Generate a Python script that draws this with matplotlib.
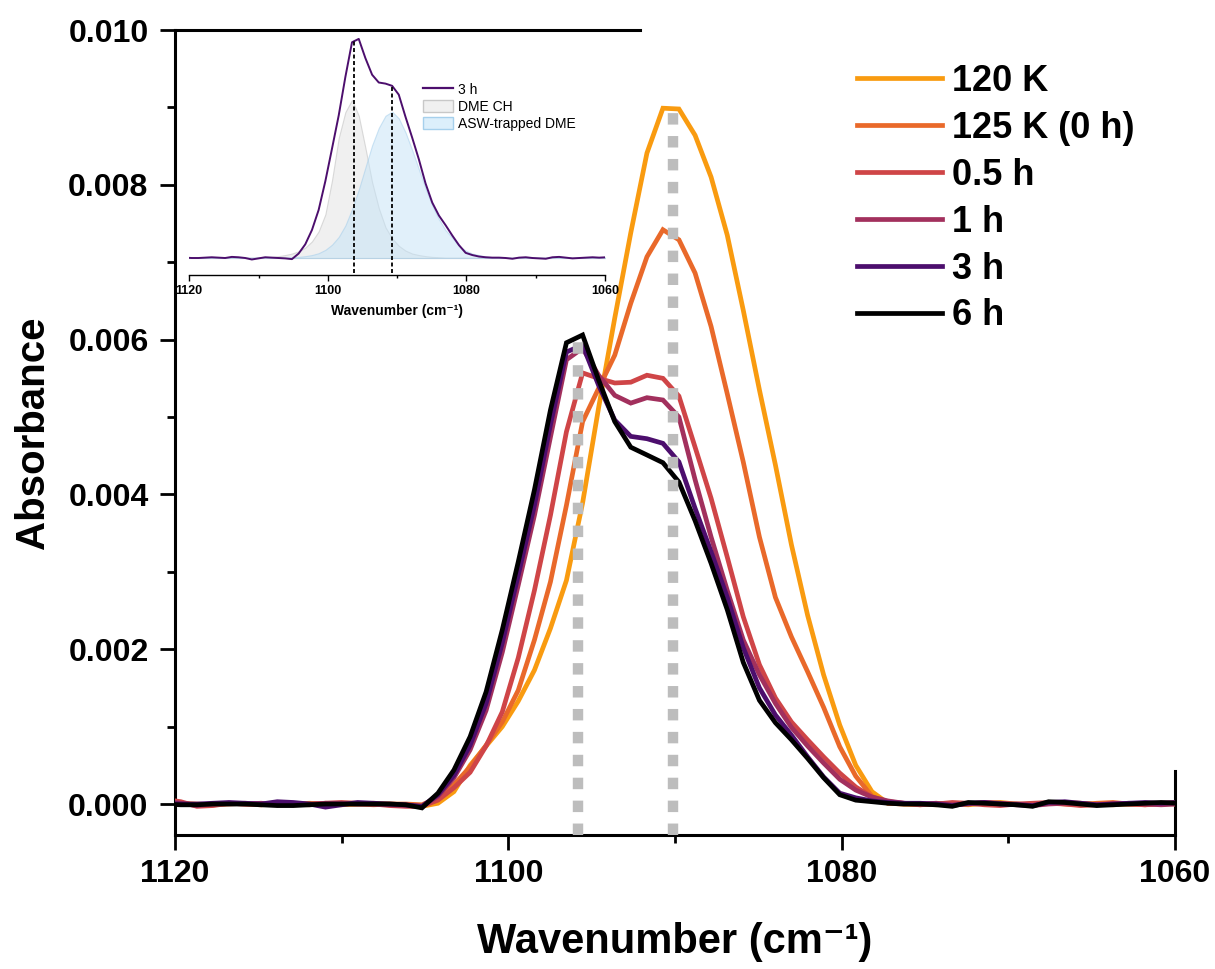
import matplotlib
matplotlib.use('Agg')
import matplotlib.pyplot as plt
import matplotlib.ticker as mticker
from matplotlib.lines import Line2D
from matplotlib.patches import Patch

plt.rcParams['font.family'] = ['Liberation Sans', 'DejaVu Sans']
plt.rcParams['font.weight'] = 'bold'
plt.rcParams['axes.labelweight'] = 'bold'

# --- data ---
wavenumber = [1120.61, 1119.65, 1118.68, 1117.72, 1116.76, 1115.79, 1114.83, 1113.86,
              1112.90, 1111.93, 1110.97, 1110.01, 1109.04, 1108.08, 1107.11, 1106.15,
              1105.18, 1104.22, 1103.26, 1102.29, 1101.33, 1100.36, 1099.40, 1098.43,
              1097.47, 1096.51, 1095.54, 1094.58, 1093.61, 1092.65, 1091.68, 1090.72,
              1089.76, 1088.79, 1087.83, 1086.86, 1085.90, 1084.93, 1083.97, 1083.01,
              1082.04, 1081.08, 1080.11, 1079.15, 1078.18, 1077.22, 1076.26, 1075.29,
              1074.33, 1073.36, 1072.40, 1071.43, 1070.47, 1069.51, 1068.54, 1067.58,
              1066.61, 1065.65, 1064.69, 1063.72, 1062.76, 1061.79, 1060.83, 1059.86]

abs_120K = [0.00001, 0.00000, -0.00001, 0.00000, 0.00001, 0.00000, -0.00001, 0.00000,
            0.00000, 0.00001, 0.00000, -0.00001, 0.00000, 0.00001, 0.00000, -0.00001,
            -0.00003, 0.00001, 0.00016, 0.00050, 0.00075, 0.00100, 0.00133, 0.00173,
            0.00227, 0.00289, 0.00389, 0.00512, 0.00628, 0.00738, 0.00841, 0.00899,
            0.00898, 0.00864, 0.00810, 0.00735, 0.00638, 0.00535, 0.00438, 0.00335,
            0.00244, 0.00167, 0.00102, 0.00050, 0.00016, 0.00001, 0.00000,
            -0.00001, 0.00001, 0.00000, -0.00001, 0.00001, 0.00002, 0.00000, -0.00001,
            0.00001, 0.00002, 0.00001, 0.00000, -0.00001, 0.00000, 0.00001, 0.00001, 0.00000]

abs_125K = [0.00002, 0.00001, 0.00000, -0.00001, 0.00000, 0.00001, 0.00000, 0.00000,
            -0.00001, 0.00000, 0.00001, 0.00000, 0.00000, -0.00001, 0.00000, 0.00000,
            -0.00001, 0.00008, 0.00025, 0.00048, 0.00076, 0.00106, 0.00147, 0.00212,
            0.00287, 0.00386, 0.00494, 0.00537, 0.00580, 0.00647, 0.00707, 0.00742,
            0.00729, 0.00686, 0.00617, 0.00530, 0.00442, 0.00345, 0.00267, 0.00216,
            0.00171, 0.00125, 0.00074, 0.00036, 0.00010, 0.00001, 0.00000,
            0.00000, -0.00001, 0.00001, 0.00000, 0.00002, 0.00001, -0.00001, 0.00000,
            0.00001, 0.00000, -0.00001, 0.00001, 0.00002, 0.00000, -0.00001, 0.00000, 0.00001]

abs_05h = [0.00006, 0.00003, -0.00003, -0.00002, 0.00001, 0.00000, -0.00001, 0.00002,
           0.00000, -0.00001, 0.00001, 0.00002, 0.00001, 0.00000, -0.00002, -0.00003,
           -0.00003, 0.00005, 0.00021, 0.00041, 0.00075, 0.00119, 0.00189, 0.00276,
           0.00373, 0.00481, 0.00557, 0.00550, 0.00544, 0.00545, 0.00554, 0.00550,
           0.00527, 0.00461, 0.00395, 0.00319, 0.00242, 0.00180, 0.00137, 0.00106,
           0.00083, 0.00061, 0.00040, 0.00022, 0.00009, 0.00003, 0.00001,
           -0.00001, 0.00000, 0.00002, 0.00001, -0.00001, -0.00002, 0.00000, 0.00001,
           0.00002, 0.00000, -0.00002, -0.00001, 0.00001, 0.00000, -0.00001, 0.00001, 0.00002]

abs_1h = [0.00004, 0.00001, -0.00002, 0.00000, 0.00001, 0.00000, 0.00001, -0.00001,
          0.00000, 0.00000, 0.00001, 0.00001, 0.00000, 0.00000, -0.00001, -0.00002,
          -0.00003, 0.00010, 0.00034, 0.00070, 0.00121, 0.00196, 0.00283, 0.00373,
          0.00474, 0.00574, 0.00589, 0.00554, 0.00528, 0.00518, 0.00525, 0.00522,
          0.00500, 0.00419, 0.00345, 0.00276, 0.00212, 0.00167, 0.00130, 0.00099,
          0.00075, 0.00053, 0.00032, 0.00018, 0.00009, 0.00004, 0.00001,
          0.00000, 0.00001, -0.00001, 0.00000, 0.00002, 0.00001, 0.00000, -0.00002,
          0.00000, 0.00001, 0.00001, -0.00001, 0.00000, 0.00001, 0.00000, -0.00001, 0.00000]

abs_3h = [0.00001, 0.00000, 0.00000, 0.00001, 0.00002, 0.00001, 0.00000, 0.00003,
          0.00002, 0.00000, -0.00004, -0.00001, 0.00002, 0.00001, 0.00000, -0.00001,
          -0.00003, 0.00012, 0.00037, 0.00076, 0.00130, 0.00208, 0.00296, 0.00386,
          0.00490, 0.00584, 0.00593, 0.00541, 0.00496, 0.00475, 0.00472, 0.00466,
          0.00442, 0.00382, 0.00326, 0.00267, 0.00202, 0.00150, 0.00115, 0.00089,
          0.00061, 0.00035, 0.00014, 0.00008, 0.00004, 0.00002, 0.00001,
          0.00001, 0.00000, -0.00002, 0.00001, 0.00002, 0.00000, -0.00001, -0.00002,
          0.00002, 0.00003, 0.00001, -0.00001, 0.00000, 0.00001, 0.00002, 0.00001, 0.00002]

abs_6h = [0.00000, -0.00001, -0.00001, 0.00000, 0.00000, 0.00000, -0.00001, -0.00002,
          -0.00002, -0.00001, 0.00000, 0.00000, 0.00000, 0.00000, 0.00000, -0.00001,
          -0.00005, 0.00014, 0.00044, 0.00087, 0.00145, 0.00225, 0.00313, 0.00406,
          0.00509, 0.00596, 0.00606, 0.00548, 0.00494, 0.00461, 0.00451, 0.00441,
          0.00416, 0.00366, 0.00311, 0.00251, 0.00183, 0.00134, 0.00105, 0.00083,
          0.00059, 0.00034, 0.00012, 0.00005, 0.00003, 0.00001, 0.00000,
          0.00000, -0.00001, -0.00003, 0.00002, 0.00001, 0.00000, -0.00001, -0.00003,
          0.00003, 0.00002, 0.00000, -0.00002, -0.00001, 0.00000, 0.00001, 0.00002, 0.00001]

# fitted components of the 3 h spectrum (inset)
fit_dme_ch = [0.00001, 0.00001, 0.00001, 0.00001, 0.00001, 0.00001, 0.00001, 0.00001,
              0.00001, 0.00001, 0.00001, 0.00001, 0.00002, 0.00003, 0.00005, 0.00008,
              0.00012, 0.00018, 0.00028, 0.00045, 0.00072, 0.00118, 0.00210, 0.00325,
              0.00395, 0.00428, 0.00385, 0.00298, 0.00205, 0.00135, 0.00083, 0.00053,
              0.00033, 0.00020, 0.00012, 0.00008, 0.00005, 0.00003, 0.00002, 0.00001,
              0.00001, 0.00001, 0.00001, 0.00001, 0.00001, 0.00001, 0.00001,
              0.00001, 0.00001, 0.00001, 0.00001, 0.00001, 0.00001, 0.00001, 0.00001,
              0.00001, 0.00001, 0.00001, 0.00001, 0.00001, 0.00001, 0.00001, 0.00001, 0.00001]

fit_asw = [0.00001, 0.00001, 0.00001, 0.00001, 0.00001, 0.00001, 0.00001, 0.00001,
           0.00001, 0.00001, 0.00001, 0.00001, 0.00001, 0.00001, 0.00001, 0.00001,
           0.00002, 0.00003, 0.00005, 0.00008, 0.00013, 0.00022, 0.00036, 0.00057,
           0.00088, 0.00132, 0.00185, 0.00245, 0.00305, 0.00352, 0.00385, 0.00396,
           0.00378, 0.00340, 0.00292, 0.00240, 0.00188, 0.00142, 0.00105, 0.00075,
           0.00055, 0.00033, 0.00020, 0.00012, 0.00008, 0.00004, 0.00002,
           0.00001, 0.00001, 0.00001, 0.00001, 0.00001, 0.00001, 0.00001, 0.00001,
           0.00001, 0.00001, 0.00001, 0.00001, 0.00001, 0.00001, 0.00001, 0.00001, 0.00001]

series = [abs_120K, abs_125K, abs_05h, abs_1h, abs_3h, abs_6h]
labels = ['120 K', '125 K (0 h)', '0.5 h', '1 h', '3 h', '6 h']
colors = ['#f99b10', '#e9692a', '#cf4547', '#a2305d', '#4c0e6d', '#000000']

# band positions marked by the grey dotted lines
marker_wn = [1095.8, 1090.1]
marker_top = [0.00608, 0.00900]
# band positions marked in the inset
inset_wn = [1096.2, 1090.7]
inset_top = [0.00590, 0.00463]

# --- figure ---
fig = plt.figure(figsize=(12.15, 9.69), dpi=100)
ax = fig.add_axes([0.144, 0.1383, 0.823, 0.8307])

for y, lab, c in zip(series, labels, colors):
    ax.plot(wavenumber, y, color=c, lw=3.4, label=lab, solid_joinstyle='miter', zorder=3)

for w, top in zip(marker_wn, marker_top):
    ax.plot([w, w], [-0.0004, top], color='#bdbdbd', lw=7.5, linestyle=(0, (1.1, 1.1)),
            dash_capstyle='butt', zorder=6)

ax.set_xlim(1120, 1060)
ax.set_ylim(-0.0004, 0.010)
ax.xaxis.set_major_locator(mticker.MultipleLocator(20))
ax.xaxis.set_minor_locator(mticker.MultipleLocator(10))
ax.yaxis.set_major_locator(mticker.MultipleLocator(0.002))
ax.yaxis.set_minor_locator(mticker.MultipleLocator(0.001))
ax.yaxis.set_major_formatter(mticker.FormatStrFormatter('%.3f'))

for s in ['top', 'right']:
    ax.spines[s].set_visible(False)
for s in ['left', 'bottom']:
    ax.spines[s].set_linewidth(2.2)
ax.axhline(0.010, xmin=0, xmax=0.465, color='black', lw=2.2, clip_on=False)
ax.axvline(1060, ymin=0, ymax=0.08, color='black', lw=2.2, clip_on=False)

ax.tick_params(axis='both', which='major', direction='out', length=11, width=2,
               labelsize=23)
ax.tick_params(axis='both', which='minor', direction='out', length=6, width=2)
ax.tick_params(axis='y', which='major', pad=8)
ax.tick_params(axis='x', which='major', pad=6)

ax.set_xlabel('Wavenumber (cm\u207b\u00b9)', fontsize=30, labelpad=24)
ax.set_ylabel('Absorbance', fontsize=29, labelpad=12)

ax.legend(loc='upper left', bbox_to_anchor=(0.682, 0.958), frameon=False,
          fontsize=26, handlelength=2.35, handletextpad=0.28, labelspacing=0.33,
          borderpad=0, borderaxespad=0)

# --- inset ---
ax_in = fig.add_axes([0.1558, 0.7162, 0.3421, 0.2528])
ax_in.set_facecolor('none')
ax_in.fill_between(wavenumber, 0, fit_dme_ch, facecolor='#e6e6e6', alpha=0.6,
                   edgecolor='#c4c4c4', lw=0.8, zorder=1)
ax_in.fill_between(wavenumber, 0, fit_asw, facecolor='#c4e3f7', alpha=0.5,
                   edgecolor='#9fcbea', lw=0.8, zorder=2)
ax_in.plot(wavenumber, abs_3h, color=colors[4], lw=1.4, zorder=3)
for w, top in zip(inset_wn, inset_top):
    ax_in.plot([w, w], [-0.0004, top], color='black', lw=1.3, linestyle=(0, (2.2, 1.4)),
               zorder=4)

ax_in.set_xlim(1120, 1060)
ax_in.set_ylim(-0.00046, 0.00617)
ax_in.set_yticks([])
for s in ['top', 'right', 'left']:
    ax_in.spines[s].set_visible(False)
ax_in.spines['bottom'].set_linewidth(1.0)
ax_in.xaxis.set_major_locator(mticker.MultipleLocator(20))
ax_in.xaxis.set_minor_locator(mticker.MultipleLocator(10))
ax_in.tick_params(axis='x', which='major', direction='out', length=4, width=1,
                  labelsize=9, pad=3)
ax_in.tick_params(axis='x', which='minor', direction='out', length=2, width=1)
ax_in.set_xlabel('Wavenumber (cm\u207b\u00b9)', fontsize=10, labelpad=5)

inset_handles = [Line2D([], [], color=colors[4], lw=1.6, label='3 h'),
                 Patch(facecolor='#f0f0f0', edgecolor='#c8c8c8', label='DME CH'),
                 Patch(facecolor='#dcefFb', edgecolor='#a6d0ec', label='ASW-trapped DME')]
ax_in.legend(handles=inset_handles, loc='upper left', bbox_to_anchor=(0.562, 0.785),
             frameon=False, prop={'size': 10, 'weight': 'normal'}, handlelength=2.2,
             handleheight=0.95, handletextpad=0.3, labelspacing=0.22, borderpad=0,
             borderaxespad=0)

fig.savefig('out.png', dpi=100)
